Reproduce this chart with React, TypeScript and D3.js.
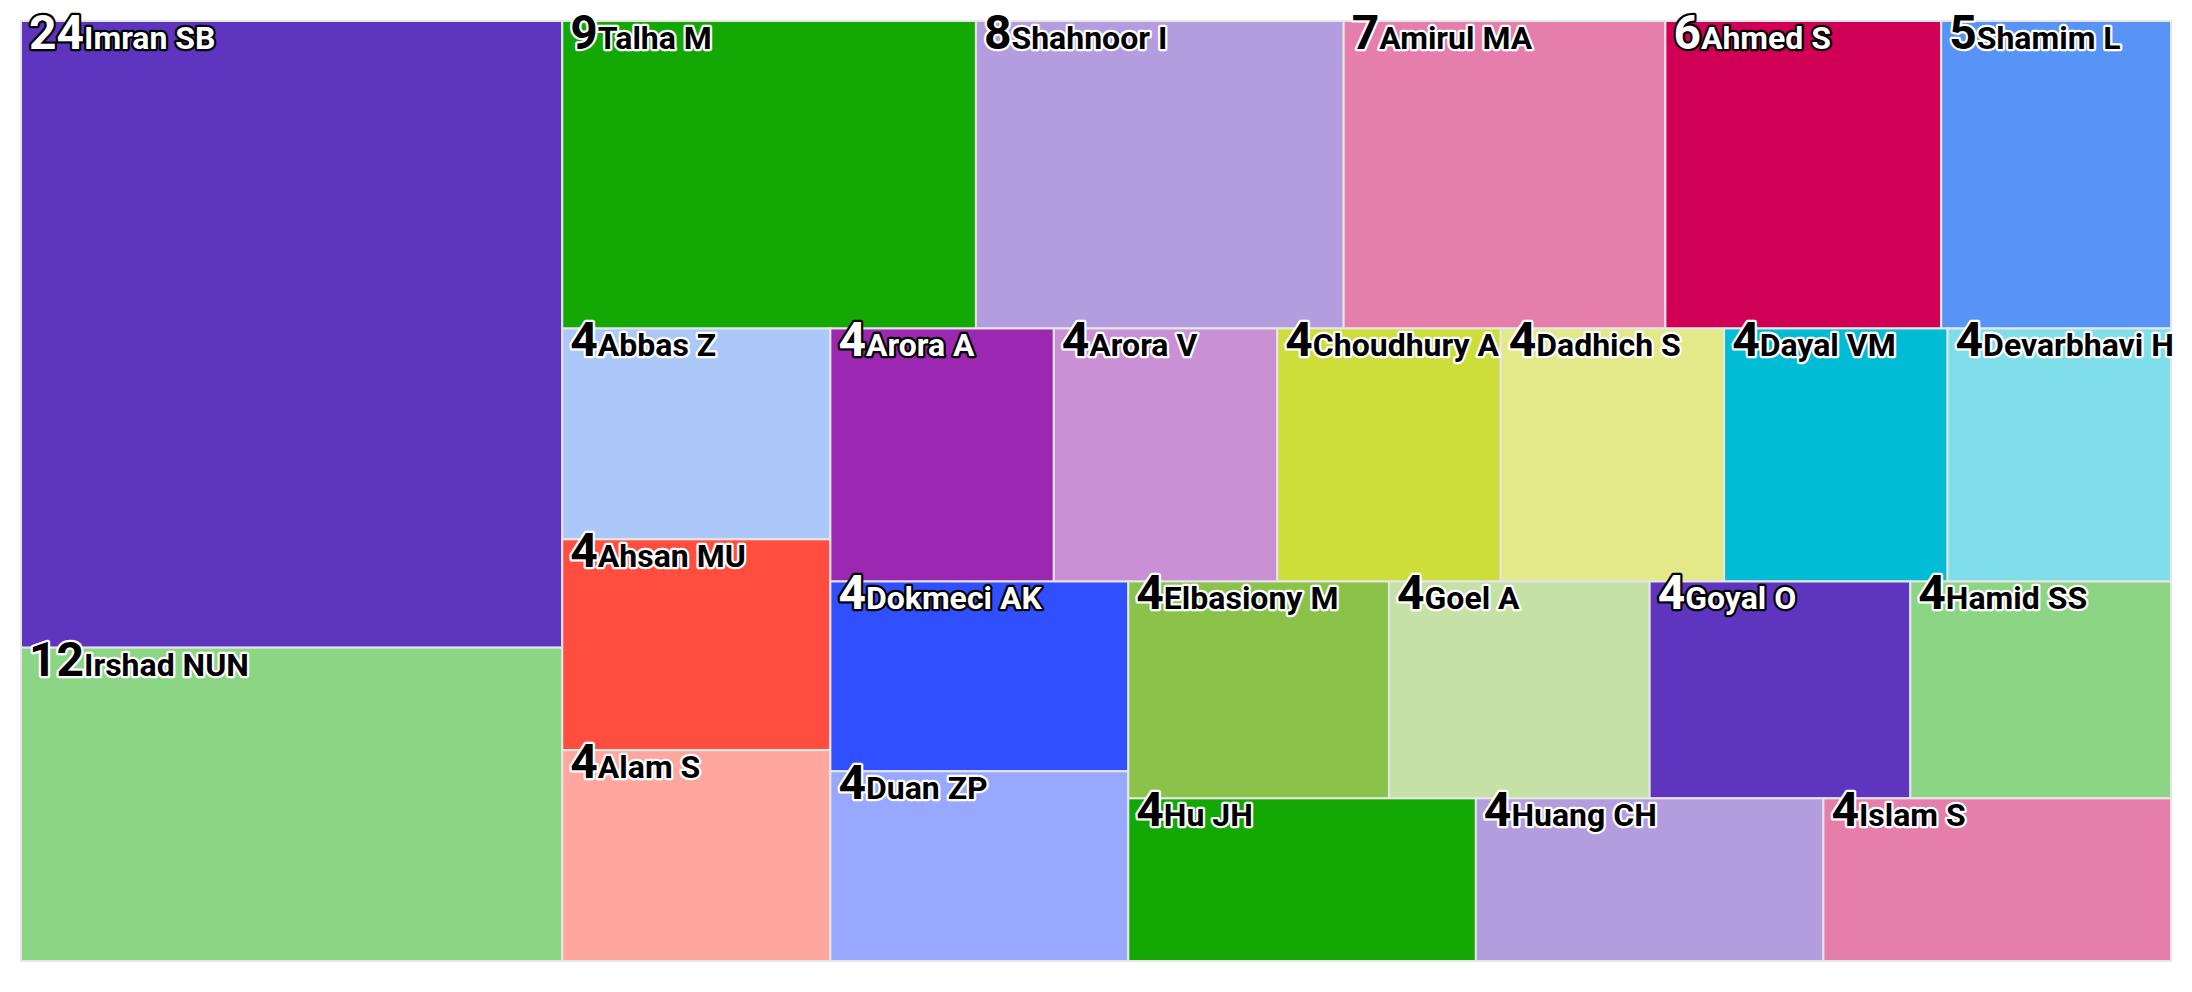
import * as d3 from "d3";

const names = [
  "Imran SB", "Irshad NUN", "Talha M", "Shahnoor I", "Amirul MA", "Ahmed S", "Shamim L",
  "Abbas Z", "Ahsan MU", "Alam S", "Arora A", "Arora V", "Choudhury A", "Dadhich S",
  "Dayal VM", "Devarbhavi H", "Dokmeci AK", "Duan ZP", "Elbasiony M", "Goel A",
  "Goyal O", "Hamid SS", "Hu JH", "Huang CH", "Islam S",
];
const values = [24, 12, 9, 8, 7, 6, 5, 4, 4, 4, 4, 4, 4, 4, 4, 4, 4, 4, 4, 4, 4, 4, 4, 4, 4];

const palette = [
  "#5e35be", "#8cd584", "#14a805", "#b49ddf", "#e57eab", "#d00056", "#5894f5",
  "#abc8f8", "#ff4e40", "#ffa69e", "#9c27b0", "#c990d6", "#cddd3a", "#e3e888",
  "#00bcd4", "#80deea", "#304ffe", "#98a8fe", "#8bc34a", "#c6e1a6",
];

const width = 2192;
const height = 992;
const margin = { top: 21, right: 21, bottom: 31, left: 21 };

// squarified tiling that flips direction after every row (starts vertical)
function alternatingSquarify(parent: any, x0: number, y0: number, x1: number, y1: number) {
  const nodes = parent.children;
  const W = x1 - x0, H = y1 - y0;
  const areas = nodes.map((n: any) => (W * H * n.value) / parent.value);
  const ratio = (a: number, b: number) => Math.max(a / b, b / a);
  let gw = W, gh = H, dir = 0;
  let els: number[] = [];
  let total = 0, nW = 0, lW = 0, nH = 0, lH = 0, lR = 0, nR = 0;
  let px = x0, py = y0, k = 0;

  const add = (a: number) => {
    const last = els[els.length - 1];
    total += a;
    if (dir === 0) {
      lW = nW;
      lR = ratio(lW, last / lW);
      nW = total / gh;
      nR = ratio(nW, last / nW);
    } else {
      lH = nH;
      lR = ratio(last / lH, lH);
      nH = total / gw;
      nR = ratio(last / nH, nH);
    }
    els.push(a);
  };

  const place = (last: boolean) => {
    const bw = last ? nW : lW;
    const bh = last ? nH : lH;
    const keep = els[els.length - 1];
    const end = els.length - 1;
    els.forEach((p, i) => {
      if (last || i < end) {
        const w = dir === 0 ? bw : p / bh;
        const h = dir === 0 ? p / bw : bh;
        const node = nodes[k++];
        node.x0 = px; node.y0 = py; node.x1 = px + w; node.y1 = py + h;
        if (dir === 0) py += h; else px += w;
      }
    });
    nW = 0; lW = 0; els = []; total = 0;
    if (dir === 0) gw -= bw; else gh -= bh;
    py = y0 + (H - gh);
    px = x0 + (W - gw);
    dir = 1 - dir;
    if (!last) add(keep);
  };

  areas.forEach((a: number, i: number) => {
    add(a);
    if (nR > lR) place(false);
    if (i === areas.length - 1) place(true);
  });
}

function contrast(c: string) {
  const rgb = d3.rgb(c);
  const lin = [rgb.r, rgb.g, rgb.b].map((v) => {
    const s = v / 255;
    return s <= 0.03928 ? s / 12.92 : Math.pow((s + 0.055) / 1.055, 2.4);
  });
  const l = 0.2126 * lin[0] + 0.7152 * lin[1] + 0.0722 * lin[2];
  return 1.05 / (l + 0.05) > (l + 0.05) / 0.05 ? "#ffffff" : "#000000";
}

export default function App() {
  const innerW = width - margin.left - margin.right;
  const innerH = height - margin.top - margin.bottom;

  const color = d3.scaleOrdinal<string, string>().domain(names).range(palette);

  const root = d3
    .hierarchy<any>({ children: names.map((name, i) => ({ name, value: values[i] })) })
    .sum((d) => d.value ?? 0);

  d3.treemap<any>().size([innerW, innerH]).tile(alternatingSquarify as any)(root);

  const leaves = root.leaves() as d3.HierarchyRectangularNode<any>[];

  return (
    <>
      <style>{`body{margin:0}`}</style>
      <svg width={width} height={height} style={{ display: "block", background: "#ffffff" }}>
        <g transform={`translate(${margin.left},${margin.top})`}>
          {leaves.map((d, i) => (
            <rect
              key={i}
              x={d.x0}
              y={d.y0}
              width={d.x1 - d.x0}
              height={d.y1 - d.y0}
              fill={color(d.data.name)}
              stroke="#e6e6e6"
              strokeWidth={2}
            />
          ))}
          {leaves.map((d, i) => {
            const fill = contrast(color(d.data.name));
            return (
              <text
                key={i}
                x={d.x0 + 8}
                y={d.y0 + 28}
                fontFamily="Roboto, sans-serif"
                fontWeight={700}
                fill={fill}
                stroke={fill === "#ffffff" ? "#000000" : "#ffffff"}
                strokeWidth={4.5}
                strokeLinejoin="round"
                paintOrder="stroke"
              >
                <tspan fontSize={48}>{d.data.value}</tspan>
                <tspan fontSize={32}>{d.data.name}</tspan>
              </text>
            );
          })}
        </g>
      </svg>
    </>
  );
}
